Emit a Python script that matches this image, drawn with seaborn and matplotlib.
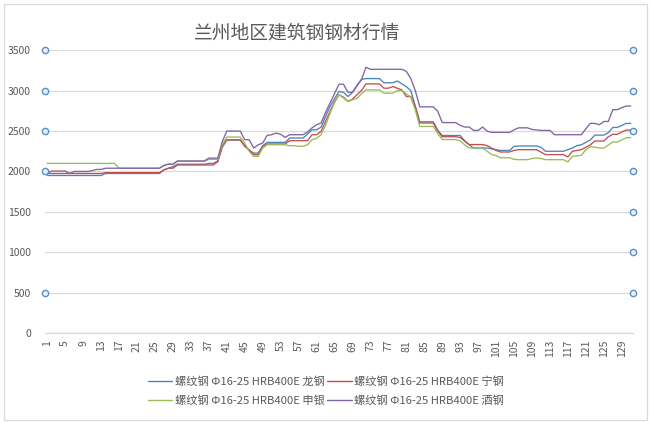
import matplotlib
matplotlib.use("Agg")
import matplotlib.pyplot as plt
import matplotlib.transforms as mtransforms
from matplotlib.lines import Line2D
from matplotlib.patches import Rectangle
import seaborn as sns
import pandas as pd

# ---------------- data ----------------
title = "兰州地区建筑钢钢材行情"
names = ["螺纹钢 Φ16-25 HRB400E 龙钢", "螺纹钢 Φ16-25 HRB400E 宁钢",
         "螺纹钢 Φ16-25 HRB400E 申银", "螺纹钢 Φ16-25 HRB400E 酒钢"]
colors = ["#4F81BD", "#C0504D", "#9BBB59", "#8064A2"]
days = list(range(1, 132))
xtick_days = [1, 5, 9, 13, 17, 21, 25, 29, 33, 37, 41, 45, 49, 53, 57, 61, 65,
              69, 73, 77, 81, 85, 89, 93, 97, 101, 105, 109, 113, 117, 121, 125, 129]
yticks = [0, 500, 1000, 1500, 2000, 2500, 3000, 3500]
left_handles = [500, 2000, 2500, 3000, 3500]
right_handles = [500, 1000, 1500, 2000, 2500, 3000, 3500]

longgang = [
    1950, 1950, 1950, 1950, 1950, 1950, 1950, 1950, 1950, 1950, 1950, 1950, 1950,
    1975, 1975, 1975, 1975, 1975, 1975, 1975, 1975, 1975, 1975, 1975, 1975, 1975,
    2020, 2040, 2060,
    2090, 2090, 2090, 2090, 2090, 2090, 2090,
    2100, 2100, 2130, 2320,
    2390, 2390, 2390, 2390,
    2320, 2260, 2228, 2228, 2319,
    2360, 2360, 2360, 2360, 2360,
    2414, 2414, 2414, 2414,
    2463, 2516, 2516, 2549, 2680, 2804, 2900, 2990, 2979, 2928, 2979, 3064, 3140,
    3150, 3150, 3150, 3150,
    3098, 3098, 3098, 3120, 3085, 3050, 3000, 2810,
    2615, 2615, 2615, 2615, 2510,
    2445, 2445, 2445, 2445, 2445,
    2380, 2330, 2290, 2290, 2290, 2290, 2280, 2270,
    2260, 2260, 2260, 2310,
    2315, 2315, 2315, 2315, 2315, 2300,
    2250, 2250, 2250, 2250, 2250,
    2270, 2290, 2320, 2330, 2360, 2390,
    2450, 2450, 2450, 2480, 2545, 2545, 2570, 2595, 2595,
]
ninggang = [
    1980, 2005, 2005, 2005, 2005,
    1975, 1975, 1975, 1975, 1975, 1975, 1975, 1975,
    1985, 1985, 1985, 1985, 1985, 1985, 1985, 1985, 1985, 1985, 1985, 1985, 1985,
    2020, 2040, 2040,
    2080, 2080, 2080, 2080, 2080, 2080, 2080, 2080, 2080,
    2120, 2300,
    2390, 2390, 2390, 2390,
    2310, 2270, 2208, 2208, 2311,
    2340, 2340, 2340, 2340, 2340,
    2381, 2381, 2381, 2381, 2381,
    2455, 2455, 2496, 2620, 2743, 2860, 2949, 2920, 2866, 2895, 2949, 3000,
    3084, 3084, 3084, 3084,
    3031, 3031, 3051, 3030, 3010,
    2928, 2928, 2800,
    2600, 2600, 2600, 2600, 2500,
    2430, 2430, 2430, 2430, 2420, 2375,
    2333, 2333, 2333, 2333, 2320, 2290, 2260,
    2241, 2241, 2241, 2260,
    2270, 2270, 2270, 2270, 2270, 2240,
    2209, 2209, 2209, 2209, 2209,
    2180, 2250, 2260, 2270, 2300, 2330,
    2377, 2377, 2377, 2430, 2460, 2460, 2490, 2512, 2512,
]
shenyin = [
    2100, 2100, 2100, 2100, 2100, 2100, 2100, 2100, 2100, 2100, 2100, 2100, 2100, 2100, 2100, 2100,
    2040, 2040, 2040, 2040, 2040, 2040, 2040, 2040, 2040, 2040,
    2075, 2090, 2090,
    2125, 2125, 2125, 2125, 2125, 2125, 2125,
    2150, 2150, 2150, 2330,
    2426, 2426, 2426, 2426,
    2352, 2249, 2187, 2187, 2290,
    2331, 2331, 2331, 2331, 2331,
    2319, 2319, 2311, 2311,
    2330, 2393, 2410, 2455, 2570, 2720, 2850, 2949, 2910, 2866, 2887, 2907, 2960,
    3010, 3010, 3010, 3010,
    2969, 2969, 2969, 3002, 3002, 2960, 2920, 2760,
    2557, 2557, 2557, 2557, 2470,
    2395, 2395, 2395, 2395, 2380, 2330,
    2290, 2290, 2290, 2290, 2250, 2210, 2196,
    2170, 2170, 2170, 2150,
    2146, 2146, 2146, 2160, 2167, 2160,
    2146, 2146, 2146, 2146, 2146,
    2118, 2188, 2193, 2200, 2270, 2307,
    2300, 2290, 2290, 2328, 2365, 2365, 2390, 2418, 2418,
]
jiugang = [
    1975, 1975, 1975, 1975, 1975, 1975,
    2000, 2000, 2000, 2000, 2010, 2025, 2025,
    2040, 2040, 2040, 2040, 2040, 2040, 2040, 2040, 2040, 2040, 2040, 2040, 2040,
    2075, 2090, 2090,
    2130, 2130, 2130, 2130, 2130, 2130, 2130,
    2165, 2165, 2165, 2370,
    2500, 2500, 2500, 2500,
    2393, 2393, 2290, 2330, 2352,
    2447, 2455, 2475, 2460, 2422,
    2455, 2455, 2455, 2455,
    2490, 2540, 2578, 2600, 2730, 2846, 2960, 3080, 3080, 2979, 2979, 3064, 3136,
    3290, 3265, 3265, 3265,
    3265, 3265, 3265, 3265, 3265, 3240, 3150, 3000,
    2800, 2800, 2800, 2800, 2745,
    2605, 2605, 2605, 2605, 2570,
    2550, 2550, 2508, 2508, 2550, 2500, 2484, 2484,
    2484, 2484, 2484, 2516,
    2540, 2540, 2540, 2520, 2515, 2508,
    2508, 2508, 2455, 2455, 2455,
    2455, 2455, 2455, 2455, 2530, 2595,
    2595, 2578, 2619, 2619, 2765, 2765, 2790, 2810, 2810,
]

# ---------------- figure ----------------
sns.set_theme(style="white")
plt.rcParams['font.family'] = ['Noto Sans CJK SC', 'DejaVu Sans']
text_color = "#595959"
grid_color = "#D9D9D9"

W, H = 652, 423
fig = plt.figure(figsize=(W / 100, H / 100), dpi=100)
fig.patch.set_facecolor("white")
ax = fig.add_axes([45 / W, (H - 333) / H, 588 / W, (333 - 50.3) / H])

df = pd.DataFrame({
    "day": days * 4,
    "price": longgang + ninggang + shenyin + jiugang,
    "series": [n for n in names for _ in days],
})
sns.lineplot(data=df, x="day", y="price", hue="series", hue_order=names,
             palette=colors, linewidth=0.95, ax=ax, legend=False)

ax.set_xlim(0.5, len(days) + 0.5)
ax.set_ylim(0, 3500)
ax.set_yticks(yticks)
ax.set_yticklabels([str(v) for v in yticks])
ax.set_xticks(xtick_days)
ax.set_xticklabels([str(d) for d in xtick_days], rotation=90)
ax.set_xlabel("")
ax.set_ylabel("")
ax.yaxis.grid(True, color=grid_color, linewidth=0.9)
ax.xaxis.grid(False)
ax.set_axisbelow(True)
for s in ["top", "right", "left"]:
    ax.spines[s].set_visible(False)
ax.spines["bottom"].set_color(grid_color)
ax.spines["bottom"].set_linewidth(0.9)
ax.tick_params(axis="y", length=0, pad=10, labelsize=7.5, labelcolor=text_color)
ax.tick_params(axis="x", length=0, pad=5, labelsize=7.5, labelcolor=text_color)

# gridline selection handles
trans = mtransforms.blended_transform_factory(ax.transAxes, ax.transData)
ax.plot([0] * len(left_handles), left_handles, ls="none", marker="o", ms=4.5,
        mfc="#EAF1FA", mec="#5B8FC7", mew=1.0, transform=trans, clip_on=False, zorder=5)
ax.plot([1] * len(right_handles), right_handles, ls="none", marker="o", ms=4.5,
        mfc="#EAF1FA", mec="#5B8FC7", mew=1.0, transform=trans, clip_on=False, zorder=5)

fig.text(297 / W, 1 - 33 / H, title, ha="center", va="center",
         fontsize=13.5, color=text_color)

handles = [Line2D([], [], color=c, lw=1.0) for c in colors]
order = [0, 2, 1, 3]
leg = fig.legend([handles[i] for i in order], [names[i] for i in order],
                 loc="center", bbox_to_anchor=(0.5, 1 - 391 / H), ncol=2,
                 frameon=False, fontsize=8.1, handlelength=2.2, handletextpad=0.2,
                 columnspacing=0.25, labelspacing=0.75)
for t in leg.get_texts():
    t.set_color(text_color)

fig.add_artist(Rectangle((4 / W, 3 / H), 643 / W, 416 / H, transform=fig.transFigure,
                         fill=False, ec=grid_color, lw=0.9))

fig.savefig("out.png", dpi=100, facecolor="white")
